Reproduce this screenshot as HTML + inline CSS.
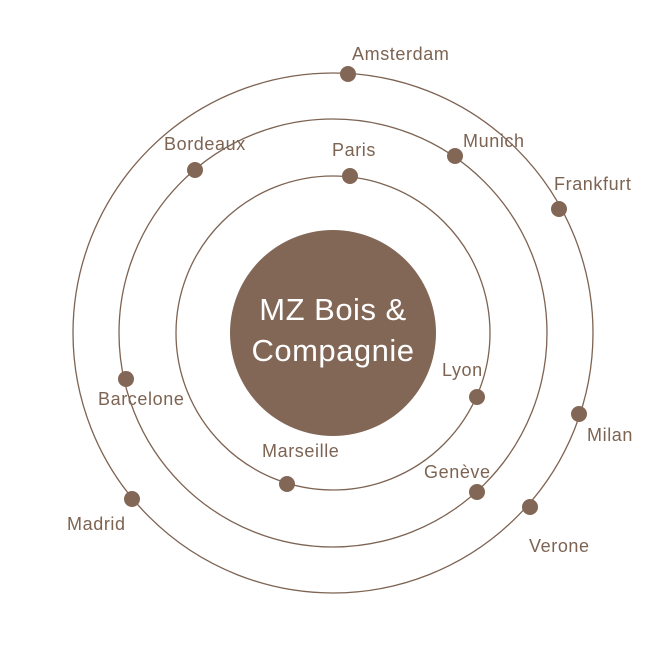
<!DOCTYPE html>
<html><head><meta charset="utf-8"><style>
html,body{margin:0;padding:0;background:#fff;}
svg{display:block;}
text{font-family:"Liberation Sans",sans-serif;fill:#7d6352;font-size:18px;letter-spacing:0.6px;}
</style></head><body>
<svg width="667" height="667" viewBox="0 0 667 667">
<g fill="none" stroke="#7d6352" stroke-width="1.3">
<circle cx="333" cy="333" r="157"/>
<circle cx="333" cy="333" r="214"/>
<circle cx="333" cy="333" r="260"/>
</g>
<circle cx="333" cy="333" r="103" fill="#836756"/>
<text x="333" y="320" text-anchor="middle" style="fill:#fff;font-size:31px;letter-spacing:0.5px">MZ Bois &amp;</text>
<text x="333" y="361" text-anchor="middle" style="fill:#fff;font-size:31px;letter-spacing:0.5px">Compagnie</text>
<g fill="#836756">
<circle cx="350" cy="176" r="8"/>
<circle cx="477" cy="397" r="8"/>
<circle cx="287" cy="484" r="8"/>
<circle cx="195" cy="170" r="8"/>
<circle cx="455" cy="156" r="8"/>
<circle cx="126" cy="379" r="8"/>
<circle cx="477" cy="492" r="8"/>
<circle cx="348" cy="74" r="8"/>
<circle cx="559" cy="209" r="8"/>
<circle cx="579" cy="414" r="8"/>
<circle cx="530" cy="507" r="8"/>
<circle cx="132" cy="499" r="8"/>
</g>
<text x="352" y="60">Amsterdam</text>
<text x="164" y="150">Bordeaux</text>
<text x="332" y="156">Paris</text>
<text x="463" y="147">Munich</text>
<text x="554" y="190">Frankfurt</text>
<text x="442" y="376">Lyon</text>
<text x="98" y="405">Barcelone</text>
<text x="262" y="457">Marseille</text>
<text x="424" y="478">Genève</text>
<text x="587" y="441">Milan</text>
<text x="67" y="530">Madrid</text>
<text x="529" y="552">Verone</text>
</svg>
</body></html>
